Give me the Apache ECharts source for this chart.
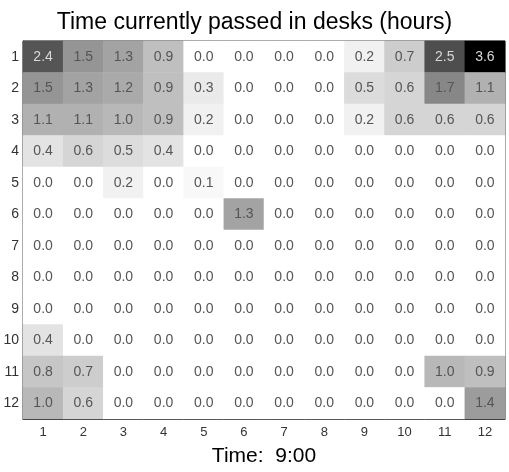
<!DOCTYPE html>
<html>
<head>
  <meta charset="utf-8">
  <title>desks</title>
  <script src="https://cdn.jsdelivr.net/npm/echarts@6/dist/echarts.min.js"></script>
  <style>
    html, body { margin: 0; padding: 0; background: #fff; }
  </style>
</head>
<body>
<div id="main" style="width: 509px; height: 472px"></div>
<script type="text/javascript">
// desk grid: columns 1..12, rows 1..12 (row 1 at top)
var cols = ['1', '2', '3', '4', '5', '6', '7', '8', '9', '10', '11', '12'];
var rows = ['1', '2', '3', '4', '5', '6', '7', '8', '9', '10', '11', '12'];

var row1  = [2.4, 1.5, 1.3, 0.9, 0.0, 0.0, 0.0, 0.0, 0.2, 0.7, 2.5, 3.6];
var row2  = [1.5, 1.3, 1.2, 0.9, 0.3, 0.0, 0.0, 0.0, 0.5, 0.6, 1.7, 1.1];
var row3  = [1.1, 1.1, 1.0, 0.9, 0.2, 0.0, 0.0, 0.0, 0.2, 0.6, 0.6, 0.6];
var row4  = [0.4, 0.6, 0.5, 0.4, 0.0, 0.0, 0.0, 0.0, 0.0, 0.0, 0.0, 0.0];
var row5  = [0.0, 0.0, 0.2, 0.0, 0.1, 0.0, 0.0, 0.0, 0.0, 0.0, 0.0, 0.0];
var row6  = [0.0, 0.0, 0.0, 0.0, 0.0, 1.3, 0.0, 0.0, 0.0, 0.0, 0.0, 0.0];
var row7  = [0.0, 0.0, 0.0, 0.0, 0.0, 0.0, 0.0, 0.0, 0.0, 0.0, 0.0, 0.0];
var row8  = [0.0, 0.0, 0.0, 0.0, 0.0, 0.0, 0.0, 0.0, 0.0, 0.0, 0.0, 0.0];
var row9  = [0.0, 0.0, 0.0, 0.0, 0.0, 0.0, 0.0, 0.0, 0.0, 0.0, 0.0, 0.0];
var row10 = [0.4, 0.0, 0.0, 0.0, 0.0, 0.0, 0.0, 0.0, 0.0, 0.0, 0.0, 0.0];
var row11 = [0.8, 0.7, 0.0, 0.0, 0.0, 0.0, 0.0, 0.0, 0.0, 0.0, 1.0, 0.9];
var row12 = [1.0, 0.6, 0.0, 0.0, 0.0, 0.0, 0.0, 0.0, 0.0, 0.0, 0.0, 1.4];

var grid = [row1, row2, row3, row4, row5, row6, row7, row8, row9, row10, row11, row12];

var data = [];
for (var r = 0; r < grid.length; r++) {
  for (var c = 0; c < grid[r].length; c++) {
    var v = grid[r][c];
    data.push({
      value: [c, r, v],
      label: { color: v > 2 ? '#d8d8d8' : '#555' }
    });
  }
}

var myChart = echarts.init(document.getElementById('main'));
myChart.setOption({
  animation: false,
  textStyle: { fontFamily: 'Liberation Sans, Arial, sans-serif' },
  title: {
    text: 'Time currently passed in desks (hours)',
    left: 'center',
    top: 6,
    textStyle: { fontSize: 23, fontWeight: 'normal', color: '#000' }
  },
  grid: {
    left: 23, right: 4, top: 41, bottom: 51,
    show: true, borderColor: '#222', borderWidth: 1
  },
  xAxis: {
    type: 'category',
    data: cols,
    name: 'Time:  9:00',
    nameLocation: 'middle',
    nameGap: 27,
    nameTextStyle: { fontSize: 21, color: '#000' },
    axisLine: { lineStyle: { color: '#222' } },
    axisTick: { show: false },
    axisLabel: { fontSize: 13, color: '#333', margin: 7 },
    splitArea: { show: false }
  },
  yAxis: {
    type: 'category',
    data: rows,
    inverse: true,
    axisLine: { lineStyle: { color: '#555' } },
    axisTick: { show: false },
    axisLabel: { fontSize: 14, color: '#333', margin: 4 }
  },
  visualMap: {
    show: false,
    min: 0,
    max: 3.6,
    dimension: 2,
    inRange: { color: ['#ffffff', '#000000'] }
  },
  series: [{
    type: 'heatmap',
    data: data,
    label: {
      show: true,
      fontSize: 14,
      formatter: function (p) { return p.value[2].toFixed(1); }
    },
    itemStyle: { borderWidth: 0 },
    emphasis: { disabled: true }
  }]
});
</script>
</body>
</html>
